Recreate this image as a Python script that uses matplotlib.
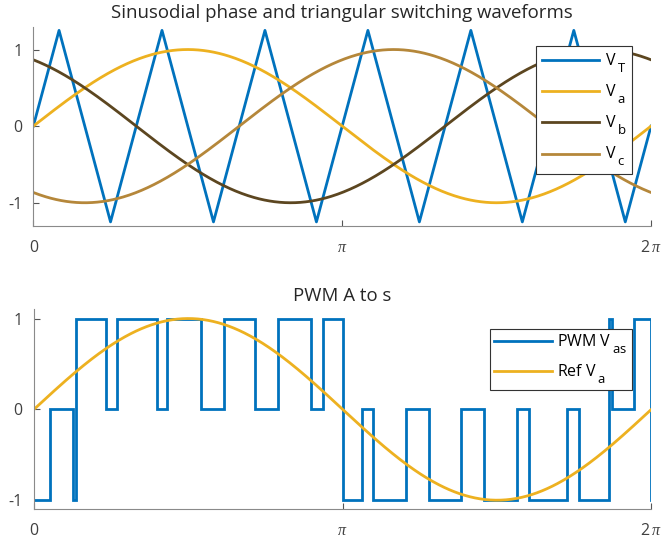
import numpy as np
import matplotlib
matplotlib.use("Agg")
import matplotlib.pyplot as plt
import matplotlib._mathtext as mt

plt.rcParams['font.family'] = ['Open Sans', 'DejaVu Sans']
plt.rcParams['mathtext.fontset'] = 'custom'
plt.rcParams['mathtext.rm'] = 'Open Sans'
plt.rcParams['mathtext.cal'] = 'Liberation Serif:italic'
# MATLAB-style subscripts: bigger and lower than mathtext default
mt.FontConstantsBase.sub1 = 0.8
mt.SHRINK_FACTOR = 0.82

# triangular carrier vertices (x in units of pi)
tri_x = [0, 1/12, 3/12, 5/12, 7/12, 9/12, 11/12, 13/12, 15/12, 17/12, 19/12, 21/12, 23/12, 2]
tri_y = [0, 1.25, -1.25, 1.25, -1.25, 1.25, -1.25, 1.25, -1.25, 1.25, -1.25, 1.25, -1.25, 0]

# phase references: amplitude and phase shift (degrees)
phase_names = ['a', 'b', 'c']
phase_amp = [1.0, 1.0, 1.0]
phase_shift = [0, 120, -120]

# PWM A to s switching instants (units of pi) and levels after each instant
pwm_t = [0, 0.052, 0.127, 0.136, 0.232, 0.268, 0.397, 0.432, 0.541, 0.614,
         0.716, 0.791, 0.896, 0.935, 1.0, 1.064, 1.099, 1.205, 1.281, 1.383,
         1.458, 1.564, 1.603, 1.728, 1.765, 1.863, 1.872, 1.945, 2.0]
pwm_v = [-1, 0, -1, 1, 0, 1, 0, 1, 0, 1,
         0, 1, 0, 1, -1, 0, -1, 0, -1, 0,
         -1, 0, -1, 0, -1, 1, 0, 1, -1]

blue = '#0072BD'
cols = ['#EDB120', '#5C4620', '#B5873A']

theta = np.linspace(0, 2 * np.pi, 600)
waves = [a * np.sin(theta + np.radians(p)) for a, p in zip(phase_amp, phase_shift)]

fig = plt.figure(figsize=(6.61, 5.43), dpi=100)
ax1 = fig.add_axes([0.0504, 0.5843, 0.9345, 0.3668])
ax2 = fig.add_axes([0.0514, 0.0621, 0.934, 0.368])


def style(ax, ylim):
    ax.set_xlim(0, 2 * np.pi)
    ax.set_ylim(*ylim)
    for s in ['top', 'right']:
        ax.spines[s].set_visible(False)
    for s in ['left', 'bottom']:
        ax.spines[s].set_color('#8a8a8a')
        ax.spines[s].set_linewidth(0.8)
    ax.set_xticks([0, np.pi, 2 * np.pi])
    ax.set_xticklabels(['0', r'$\mathcal{π}$', r'2$\,\mathcal{π}$'])
    ax.set_yticks([-1, 0, 1])
    ax.set_yticklabels(['-1', '0', '1'])
    ax.tick_params(direction='in', length=4, width=0.8, color='#555555',
                   labelcolor='#404040', labelsize=11.5)
    ax.tick_params(axis='x', pad=10)
    ax.tick_params(axis='y', pad=8)


style(ax1, (-1.3, 1.3))
ax1.plot(np.array(tri_x) * np.pi, tri_y, color=blue, lw=2, label=r'V$\,_{\mathregular{T}}$')
for name, w, c in zip(phase_names, waves, cols):
    ax1.plot(theta, w, color=c, lw=2, label=r'V$\,_{\mathregular{%s}}$' % name)
ax1.set_title('Sinusodial phase and triangular switching waveforms', fontsize=13.4,
              color='#262626', pad=6)
leg = ax1.legend(loc='upper right', bbox_to_anchor=(0.969, 0.902), fancybox=False,
                 edgecolor='#333333', framealpha=1, fontsize=11.5, handlelength=3.6,
                 handletextpad=0.35, borderaxespad=0, labelspacing=0.5,
                 borderpad=0.35)
leg.get_frame().set_linewidth(0.8)

style(ax2, (-1.1, 1.1))
ax2.step(np.array(pwm_t) * np.pi, pwm_v, where='post', color=blue, lw=2,
         solid_joinstyle='miter', label=r'PWM V$\,_{\mathregular{as}}$')
ax2.plot(theta, waves[0], color=cols[0], lw=2, label=r'Ref V$\,_{\mathregular{a}}$')
ax2.set_title('PWM A to s', fontsize=13.4, color='#262626', pad=6)
leg2 = ax2.legend(loc='upper right', bbox_to_anchor=(0.968, 0.902), fancybox=False,
                  edgecolor='#333333', framealpha=1, fontsize=11.5, handlelength=3.6,
                  handletextpad=0.35, borderaxespad=0, labelspacing=0.4,
                  borderpad=0.25)
leg2.get_frame().set_linewidth(0.8)

fig.savefig('out.png', dpi=100)
